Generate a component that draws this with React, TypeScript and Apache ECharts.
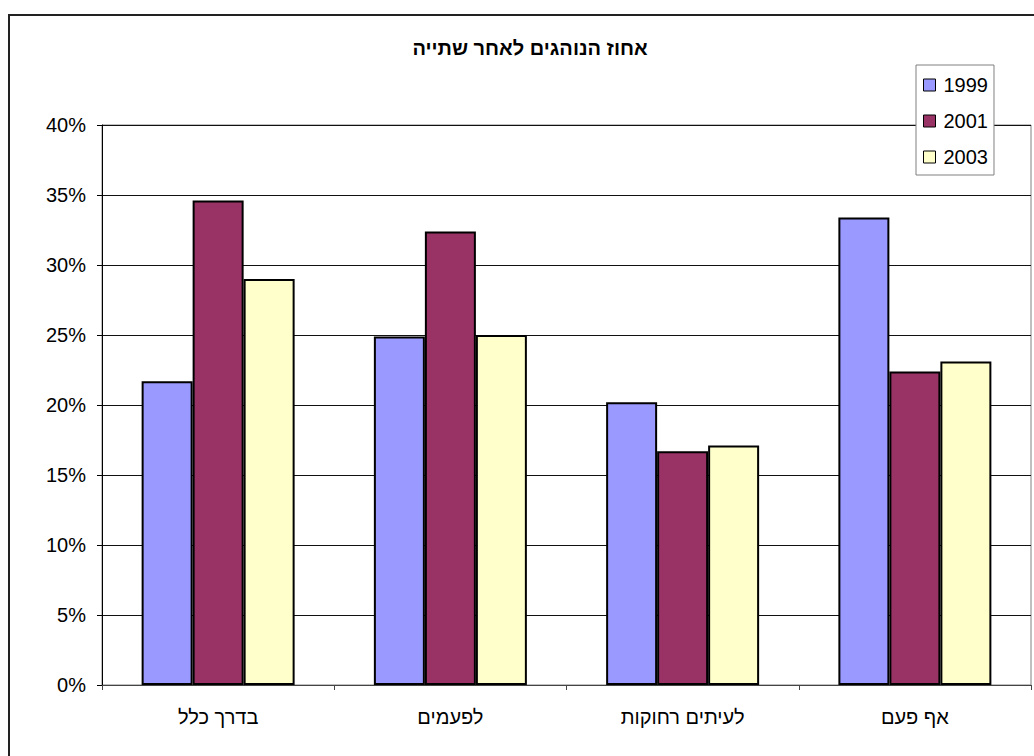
import React, { useEffect, useRef } from "react";
import * as echarts from "echarts";

const categories = ["בדרך כלל", "לפעמים", "לעיתים רחוקות", "אף פעם"];
const seriesNames = ["1999", "2001", "2003"];
const values1999 = [21.7, 24.9, 20.2, 33.4];
const values2001 = [34.6, 32.4, 16.7, 22.4];
const values2003 = [29.0, 25.0, 17.1, 23.1];
const seriesColors = ["#9999FF", "#993366", "#FFFFCC"];
const titleText = "אחוז הנוהגים לאחר שתייה";

const FONT = "'Liberation Sans', Arial, 'DejaVu Sans', sans-serif";

export default function App() {
  const ref = useRef<HTMLDivElement>(null);
  useEffect(() => {
    if (!ref.current) return;
    const chart = echarts.init(ref.current, undefined, { renderer: "svg" });
    const data = [values1999, values2001, values2003];
    chart.setOption({
      animation: false,
      backgroundColor: "#fff",
      textStyle: { fontFamily: FONT },
      title: {
        text: titleText,
        left: 525,
        top: 33,
        textAlign: "center",
        textStyle: { fontSize: 20, fontWeight: "bold", color: "#000", fontFamily: FONT },
      },
      legend: {
        orient: "vertical",
        left: 916,
        top: 65,
        padding: [9, 6, 7, 7],
        itemWidth: 12,
        itemHeight: 12,
        itemGap: 14,
        backgroundColor: "#fff",
        borderColor: "#808080",
        borderWidth: 1,
        icon: "rect",
        itemStyle: { borderColor: "#000", borderWidth: 1 },
        textStyle: { fontSize: 20, color: "#000", fontFamily: FONT, lineHeight: 22, padding: [0, 0, 0, 3] },
        data: seriesNames,
      },
      grid: {
        left: 102,
        top: 125,
        right: 3,
        bottom: 71,
        show: true,
        borderColor: "#808080",
        borderWidth: 1,
        backgroundColor: "#fff",
        containLabel: false,
      },
      xAxis: {
        type: "category",
        data: categories,
        axisLine: { lineStyle: { color: "#444", width: 1 } },
        axisTick: { show: true, alignWithLabel: false, length: 5, lineStyle: { color: "#444" } },
        axisLabel: { fontSize: 20, color: "#000", margin: 22, fontFamily: FONT },
        splitLine: { show: false },
      },
      yAxis: {
        type: "value",
        min: 0,
        max: 40,
        interval: 5,
        axisLine: { show: true, lineStyle: { color: "#000", width: 1 } },
        axisTick: { show: true, length: 5, lineStyle: { color: "#000" } },
        axisLabel: { fontSize: 20, color: "#000", margin: 16, formatter: "{value}%", fontFamily: FONT },
        splitLine: { show: true, lineStyle: { color: "#111", width: 1 } },
      },
      series: seriesNames.map((name, i) => ({
        name,
        type: "bar",
        data: data[i],
        barWidth: 51,
        barGap: "0%",
        itemStyle: { color: seriesColors[i], borderColor: "#000", borderWidth: 2 },
      })),
      graphic: [
        {
          type: "rect",
          silent: true,
          z: 100,
          shape: { x: 9, y: 15, width: 1100, height: 800 },
          style: { fill: "none", stroke: "#222", lineWidth: 2 },
        },
      ],
    });
    return () => chart.dispose();
  }, []);
  return (
    <div
      ref={ref}
      style={{ position: "fixed", left: 0, top: 0, width: 1034, height: 756 }}
    />
  );
}
